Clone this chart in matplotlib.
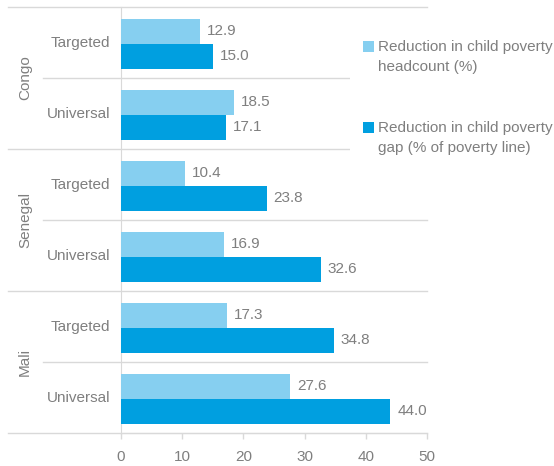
import matplotlib
matplotlib.use('Agg')
import matplotlib.pyplot as plt
from matplotlib.lines import Line2D
from matplotlib.patches import Rectangle

countries = ['Congo', 'Senegal', 'Mali']
scenarios = ['Targeted', 'Universal']
headcount = [12.9, 18.5, 10.4, 16.9, 17.3, 27.6]
gap = [15.0, 17.1, 23.8, 32.6, 34.8, 44.0]
series_labels = ['Reduction in child poverty\nheadcount (%)',
                 'Reduction in child poverty\ngap (% of poverty line)']
xticks = [0, 10, 20, 30, 40, 50]

LIGHT = '#86cff0'
DARK = '#009fe0'
GRAY = '#7f7f7f'
GRID = '#d9d9d9'
FS = 11

plt.rcParams['font.family'] = ['Liberation Sans', 'DejaVu Sans']
plt.rcParams['font.size'] = FS

W, H = 554, 466
fig = plt.figure(figsize=(W / 100, H / 100), dpi=100)
ax = fig.add_axes([121 / W, 1 - 433 / H, (427 - 121) / W, (433 - 7) / H])

n = len(headcount)
pos = list(range(n))
bh = 0.35
y1 = [p - bh / 2 + 0.02 for p in pos]
y2 = [p + bh / 2 + 0.02 for p in pos]
b1 = ax.barh(y1, headcount, height=bh, color=LIGHT, zorder=3)
b2 = ax.barh(y2, gap, height=bh + 0.01, color=DARK, zorder=3)
for bars, vals in ((b1, headcount), (b2, gap)):
    ax.bar_label(bars, labels=['%.1f' % v for v in vals], padding=5,
                 color=GRAY, fontsize=FS)

ax.set_xlim(0, 50)
ax.set_ylim(n - 0.5, -0.5)
ax.set_xticks(xticks)
ax.tick_params(axis='x', colors=GRID, length=4, width=1, pad=8,
               labelcolor=GRAY, labelsize=FS)
ax.set_yticks([])
for s in ['top', 'right']:
    ax.spines[s].set_visible(False)
ax.spines['left'].set_color(GRID)
ax.spines['bottom'].set_color(GRID)

# category boundary lines reaching into the label area
tr = ax.get_yaxis_transform()
left_outer = (8 - 121) / (427 - 121)
left_inner = (43 - 121) / (427 - 121)
for k in range(n + 1):
    b = k - 0.5
    x0 = left_outer if k % 2 == 0 else left_inner
    ax.add_line(Line2D([x0, 1], [b, b], transform=tr, color=GRID,
                       lw=1, clip_on=False, zorder=1))

# two-level category labels
for i, p in enumerate(pos):
    ax.text((110 - 121) / 306, p, scenarios[i % 2], transform=tr,
            ha='right', va='center', color=GRAY, fontsize=FS)
for j, c in enumerate(countries):
    ax.text((25 - 121) / 306, 2 * j + 0.5, c, transform=tr, rotation=90,
            ha='center', va='center', color=GRAY, fontsize=FS)

# legend box (covers the grid lines behind it)
fig.add_artist(Rectangle((350 / W, 1 - 170 / H), 204 / W, 150 / H,
                         transform=fig.transFigure, facecolor='white',
                         edgecolor='none', zorder=5))
for k, (col, lab) in enumerate(zip([LIGHT, DARK], series_labels)):
    top = 41 + 81 * k
    fig.add_artist(Rectangle((363 / W, 1 - (top + 11) / H), 11 / W, 11 / H,
                             transform=fig.transFigure, facecolor=col,
                             edgecolor='none', zorder=6))
    fig.text(378 / W, 1 - (top - 1) / H, lab, ha='left', va='top',
             color=GRAY, fontsize=FS, linespacing=1.55, zorder=6)

fig.savefig('out.png', dpi=100)
